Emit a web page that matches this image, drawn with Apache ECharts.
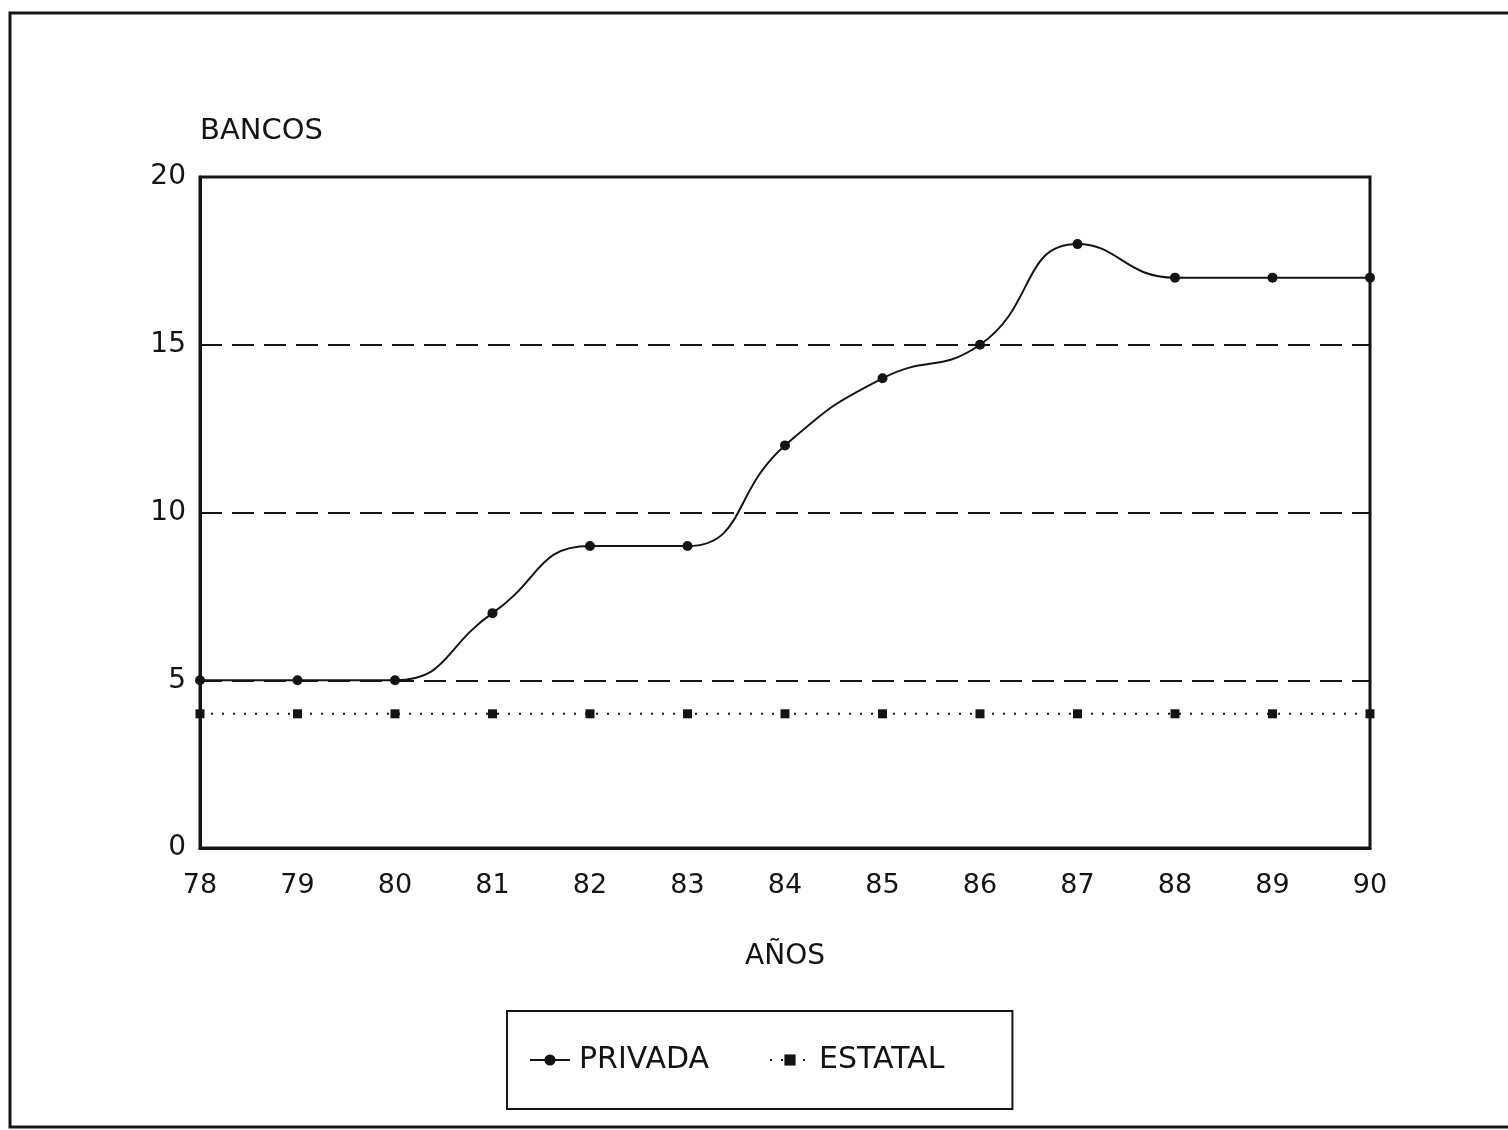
<!DOCTYPE html>
<html><head><meta charset="utf-8">
<script src="https://cdn.jsdelivr.net/npm/echarts@6/dist/echarts.min.js"></script>
<style>html,body{margin:0;padding:0;background:#fff}#c{width:1508px;height:1130px}</style>
</head><body><div id="c"></div>
<script>
const years = ['78','79','80','81','82','83','84','85','86','87','88','89','90'];
const privada = [5,5,5,7,9,9,12,14,15,18,17,17,17];
const estatal = [4,4,4,4,4,4,4,4,4,4,4,4,4];
const yTicks = [0,5,10,15,20];

const ink = '#141414';
const font = 'DejaVu Sans';
const chart = echarts.init(document.getElementById('c'));
chart.setOption({
  backgroundColor: '#fff',
  animation: false,
  textStyle: {fontFamily: font, color: ink},
  graphic: [{
    type: 'rect', shape: {x: 10, y: 13, width: 1520, height: 1114},
    style: {fill: 'none', stroke: ink, lineWidth: 3}, silent: true
  }],
  grid: {left: 200, right: 138, top: 177, bottom: 282, show: true, borderColor: ink, borderWidth: 3, backgroundColor: 'transparent'},
  xAxis: {
    type: 'category', data: years, boundaryGap: false,
    name: 'AÑOS', nameLocation: 'middle', nameGap: 95,
    nameTextStyle: {fontSize: 28, color: ink, fontFamily: font},
    axisLine: {show: true, lineStyle: {color: ink, width: 3}},
    axisTick: {show: false},
    axisLabel: {fontSize: 27, color: ink, margin: 24, fontFamily: font},
    splitLine: {show: false}
  },
  yAxis: {
    type: 'value', min: 0, max: 20, interval: 5,
    name: 'BANCOS', nameLocation: 'end', nameGap: 46,
    nameTextStyle: {fontSize: 29, color: ink, align: 'left', verticalAlign: 'middle', fontFamily: font},
    axisLine: {show: true, lineStyle: {color: ink, width: 3}},
    axisTick: {show: false},
    axisLabel: {fontSize: 28, color: ink, margin: 14, fontFamily: font,
      formatter: v => yTicks.includes(v) ? String(v) : ''},
    splitLine: {show: true, lineStyle: {color: ink, width: 2, type: [22, 10]}}
  },
  legend: {
    left: 507, top: 1011, orient: 'horizontal',
    padding: [34, 68, 34, 22], itemGap: 60,
    borderColor: ink, borderWidth: 2,
    itemWidth: 40, itemHeight: 14,
    textStyle: {fontSize: 30, color: ink, fontFamily: font, padding: [0, 0, 0, 4]},
    data: ['PRIVADA', 'ESTATAL']
  },
  series: [
    {
      name: 'PRIVADA', type: 'line', data: privada, smooth: 0.5,
      symbol: 'circle', symbolSize: 10, showSymbol: true,
      lineStyle: {color: ink, width: 2},
      itemStyle: {color: ink},
      z: 5
    },
    {
      name: 'ESTATAL', type: 'line', data: estatal,
      symbol: 'rect', symbolSize: 9,
      lineStyle: {color: ink, width: 2, type: [2, 9]},
      itemStyle: {color: ink},
      z: 4
    }
  ]
});
</script></body></html>
